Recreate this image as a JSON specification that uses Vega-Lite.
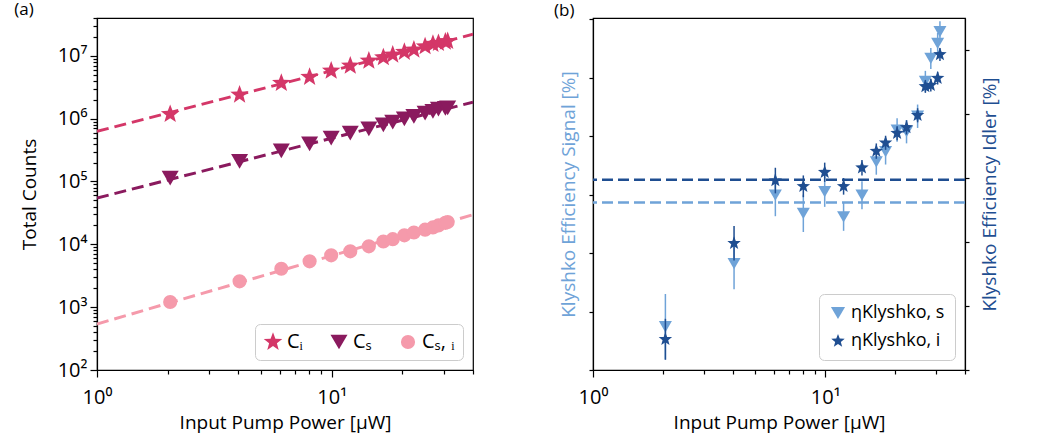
{
  "$schema": "https://vega.github.io/schema/vega-lite/v6.json",
  "padding": {"left": 13, "top": 0, "right": 5, "bottom": 0},
  "datasets": {
    "counts": [
      {"P": 2.05, "series": "Cᵢ", "count": 1180000}, {"P": 4.05, "series": "Cᵢ", "count": 2400000}, {"P": 6.1, "series": "Cᵢ", "count": 3680000}, {"P": 8.05, "series": "Cᵢ", "count": 4600000},
      {"P": 9.95, "series": "Cᵢ", "count": 5770000}, {"P": 12.0, "series": "Cᵢ", "count": 6930000}, {"P": 14.4, "series": "Cᵢ", "count": 8320000}, {"P": 16.6, "series": "Cᵢ", "count": 9440000},
      {"P": 18.2, "series": "Cᵢ", "count": 10400000}, {"P": 20.4, "series": "Cᵢ", "count": 11500000}, {"P": 22.4, "series": "Cᵢ", "count": 12500000}, {"P": 25.0, "series": "Cᵢ", "count": 14100000},
      {"P": 27.0, "series": "Cᵢ", "count": 15400000}, {"P": 28.5, "series": "Cᵢ", "count": 15900000}, {"P": 30.5, "series": "Cᵢ", "count": 16700000}, {"P": 31.2, "series": "Cᵢ", "count": 17100000},
      {"P": 2.05, "series": "Cₛ", "count": 113000}, {"P": 4.05, "series": "Cₛ", "count": 209000}, {"P": 6.1, "series": "Cₛ", "count": 308000}, {"P": 8.05, "series": "Cₛ", "count": 398000},
      {"P": 9.95, "series": "Cₛ", "count": 491000}, {"P": 12.0, "series": "Cₛ", "count": 589000}, {"P": 14.4, "series": "Cₛ", "count": 690000}, {"P": 16.6, "series": "Cₛ", "count": 798000},
      {"P": 18.2, "series": "Cₛ", "count": 881000}, {"P": 20.4, "series": "Cₛ", "count": 995000}, {"P": 22.4, "series": "Cₛ", "count": 1090000}, {"P": 25.0, "series": "Cₛ", "count": 1230000},
      {"P": 27.0, "series": "Cₛ", "count": 1310000}, {"P": 28.5, "series": "Cₛ", "count": 1420000}, {"P": 30.5, "series": "Cₛ", "count": 1460000}, {"P": 31.2, "series": "Cₛ", "count": 1490000},
      {"P": 2.05, "series": "Cₛ, ᵢ", "count": 1208}, {"P": 4.05, "series": "Cₛ, ᵢ", "count": 2577}, {"P": 6.1, "series": "Cₛ, ᵢ", "count": 4090}, {"P": 8.05, "series": "Cₛ, ᵢ", "count": 5360},
      {"P": 9.95, "series": "Cₛ, ᵢ", "count": 6680}, {"P": 12.0, "series": "Cₛ, ᵢ", "count": 7730}, {"P": 14.4, "series": "Cₛ, ᵢ", "count": 9290}, {"P": 16.6, "series": "Cₛ, ᵢ", "count": 11100},
      {"P": 18.2, "series": "Cₛ, ᵢ", "count": 12100}, {"P": 20.4, "series": "Cₛ, ᵢ", "count": 13900}, {"P": 22.4, "series": "Cₛ, ᵢ", "count": 15400}, {"P": 25.0, "series": "Cₛ, ᵢ", "count": 17100},
      {"P": 27.0, "series": "Cₛ, ᵢ", "count": 18600}, {"P": 28.5, "series": "Cₛ, ᵢ", "count": 20000}, {"P": 30.5, "series": "Cₛ, ᵢ", "count": 22000}, {"P": 31.2, "series": "Cₛ, ᵢ", "count": 22600}
    ],
    "fits": [
      {"P": 1, "fit": "i", "count": 627000}, {"P": 40, "fit": "i", "count": 22000000},
      {"P": 1, "fit": "s", "count": 54500}, {"P": 40, "fit": "s", "count": 1830000},
      {"P": 1, "fit": "si", "count": 540}, {"P": 40, "fit": "si", "count": 29600}
    ],
    "klyshko": [
      {"P": 2.05, "eta_s": 0.1012, "s_lo": 0.0984, "s_hi": 0.104, "eta_i": 1.098, "i_lo": 1.066, "i_hi": 1.13},
      {"P": 4.05, "eta_s": 0.1066, "s_lo": 0.1044, "s_hi": 0.1088, "eta_i": 1.248, "i_lo": 1.221, "i_hi": 1.275},
      {"P": 6.1, "eta_s": 0.11245, "s_lo": 0.11065, "s_hi": 0.11425, "eta_i": 1.346, "i_lo": 1.326, "i_hi": 1.366},
      {"P": 8.05, "eta_s": 0.1109, "s_lo": 0.1093, "s_hi": 0.1125, "eta_i": 1.337, "i_lo": 1.32, "i_hi": 1.354},
      {"P": 9.95, "eta_s": 0.11275, "s_lo": 0.11145, "s_hi": 0.11405, "eta_i": 1.359, "i_lo": 1.344, "i_hi": 1.374},
      {"P": 12.0, "eta_s": 0.1106, "s_lo": 0.1094, "s_hi": 0.1118, "eta_i": 1.337, "i_lo": 1.324, "i_hi": 1.35},
      {"P": 14.4, "eta_s": 0.11245, "s_lo": 0.11125, "s_hi": 0.11365, "eta_i": 1.366, "i_lo": 1.354, "i_hi": 1.378},
      {"P": 16.6, "eta_s": 0.1153, "s_lo": 0.1142, "s_hi": 0.1164, "eta_i": 1.392, "i_lo": 1.38, "i_hi": 1.404},
      {"P": 18.2, "eta_s": 0.11617, "s_lo": 0.11507, "s_hi": 0.11727, "eta_i": 1.405, "i_lo": 1.394, "i_hi": 1.416},
      {"P": 20.4, "eta_s": 0.11802, "s_lo": 0.11702, "s_hi": 0.11902, "eta_i": 1.42, "i_lo": 1.409, "i_hi": 1.431},
      {"P": 22.4, "eta_s": 0.11788, "s_lo": 0.11688, "s_hi": 0.11888, "eta_i": 1.429, "i_lo": 1.418, "i_hi": 1.44},
      {"P": 25.0, "eta_s": 0.1192, "s_lo": 0.1182, "s_hi": 0.1202, "eta_i": 1.448, "i_lo": 1.437, "i_hi": 1.459},
      {"P": 27.0, "eta_s": 0.12218, "s_lo": 0.12128, "s_hi": 0.12308, "eta_i": 1.493, "i_lo": 1.483, "i_hi": 1.503},
      {"P": 28.5, "eta_s": 0.12414, "s_lo": 0.12324, "s_hi": 0.12504, "eta_i": 1.495, "i_lo": 1.485, "i_hi": 1.505},
      {"P": 30.5, "eta_s": 0.12543, "s_lo": 0.12453, "s_hi": 0.12633, "eta_i": 1.506, "i_lo": 1.496, "i_hi": 1.516},
      {"P": 31.2, "eta_s": 0.12643, "s_lo": 0.12553, "s_hi": 0.12733, "eta_i": 1.543, "i_lo": 1.533, "i_hi": 1.553}
    ],
    "means": [{"signal": 0.11183, "idler": 1.3473}]
  },
  "spacing": 120,
  "bounds": "flush",
  "resolve": {
    "scale": {"color": "independent", "shape": "independent", "size": "independent", "stroke": "independent"},
    "legend": {"color": "independent", "shape": "independent", "size": "independent"}
  },
  "hconcat": [
    {
      "width": 376,
      "height": 352,
      "title": {"text": "(a)", "anchor": "start", "frame": "bounds", "dx": -6, "offset": -11},
      "layer": [
        {
          "data": {"name": "fits"},
          "mark": {"type": "line", "strokeDash": [12, 6], "strokeWidth": 3, "clip": true},
          "encoding": {
            "x": {"field": "P", "type": "quantitative", "scale": {"type": "log", "domain": [1, 40], "nice": false},
              "axis": {"title": "Input Pump Power [μW]", "values": [1,2,3,4,5,6,7,8,9,10,20,30,40],
                "labelExpr": "datum.value == 1 ? '10⁰' : datum.value == 10 ? '10¹' : ''",
                "tickSize": {"condition": {"test": "datum.value == 1 || datum.value == 10", "value": 7}, "value": 4},
                "labelFlush": false, "labelOverlap": false, "labelPadding": 10, "titlePadding": 6}},
            "y": {"field": "count", "type": "quantitative", "scale": {"type": "log", "domain": [100, 40000000], "nice": false},
              "axis": {"title": "Total Counts",
                "values": [100,200,300,400,500,600,700,800,900,1000,2000,3000,4000,5000,6000,7000,8000,9000,10000,20000,30000,40000,50000,60000,70000,80000,90000,100000,200000,300000,400000,500000,600000,700000,800000,900000,1000000,2000000,3000000,4000000,5000000,6000000,7000000,8000000,9000000,10000000,20000000,30000000,40000000],
                "labelExpr": "indexof([100,1000,10000,100000,1000000,10000000], datum.value) >= 0 ? '10' + ['⁰','¹','²','³','⁴','⁵','⁶','⁷','⁸'][round(log(datum.value)/LN10)] : ''",
                "tickSize": {"condition": {"test": "indexof([100,1000,10000,100000,1000000,10000000], datum.value) >= 0", "value": 7}, "value": 4},
                "labelFlush": false, "labelOverlap": false, "labelPadding": 3, "titlePadding": 18}},
            "stroke": {"field": "fit", "type": "nominal", "scale": {"domain": ["i", "s", "si"], "range": ["#d43768", "#8a1a5e", "#f59aab"]}, "legend": null}
          }
        },
        {
          "data": {"name": "counts"},
          "mark": {"type": "point", "filled": true, "opacity": 1},
          "encoding": {
            "x": {"field": "P", "type": "quantitative", "title": "Input Pump Power [μW]"},
            "y": {"field": "count", "type": "quantitative", "title": "Total Counts"},
            "color": {"field": "series", "type": "nominal", "title": null, "scale": {"domain": ["Cᵢ", "Cₛ", "Cₛ, ᵢ"], "range": ["#d43768", "#8a1a5e", "#f59aab"]},
              "legend": {"title": null, "orient": "bottom-right", "direction": "horizontal", "offset": 10, "labelFontSize": 20, "columnPadding": 26, "padding": 8, "fillColor": "white", "strokeColor": "#cccccc", "cornerRadius": 5}},
            "shape": {"field": "series", "type": "nominal", "title": null, "scale": {"domain": ["Cᵢ", "Cₛ", "Cₛ, ᵢ"], "range": ["M0,-1L0.2469,-0.3398L0.9511,-0.309L0.3995,0.1298L0.5878,0.809L0,0.42L-0.5878,0.809L-0.3995,0.1298L-0.9511,-0.309L-0.2469,-0.3398Z", "triangle-down", "circle"]}},
            "size": {"field": "series", "type": "nominal", "title": null, "scale": {"domain": ["Cᵢ", "Cₛ", "Cₛ, ᵢ"], "range": [380, 200, 80]}}
          }
        }
      ]
    },
    {
      "width": 372,
      "height": 352,
      "title": {"text": "(b)", "anchor": "start", "frame": "bounds", "dx": -5, "offset": -11},
      "layer": [
        {
          "layer": [
            {
              "data": {"name": "means"},
              "mark": {"type": "rule", "strokeDash": [11, 5], "strokeWidth": 2.5, "color": "#6fa3d8"},
              "encoding": {
                "y": {"field": "signal", "type": "quantitative", "title": "Klyshko Efficiency Signal [%]", "scale": {"domain": [0.0975, 0.1276], "nice": false, "zero": false}}
              }
            },
            {
              "data": {"name": "klyshko"},
              "mark": {"type": "rule", "color": "#6fa3d8", "strokeWidth": 1.5},
              "encoding": {
                "x": {"field": "P", "type": "quantitative", "title": "Input Pump Power [μW]", "scale": {"type": "log", "domain": [1, 40], "nice": false}},
                "y": {"field": "s_lo", "type": "quantitative", "title": "Klyshko Efficiency Signal [%]", "scale": {"domain": [0.0975, 0.1276], "nice": false, "zero": false}},
                "y2": {"field": "s_hi"}
              }
            },
            {
              "data": {"name": "klyshko"},
              "mark": {"type": "point", "filled": true, "opacity": 1, "size": 170},
              "encoding": {
                "x": {"field": "P", "type": "quantitative", "title": "Input Pump Power [μW]", "scale": {"type": "log", "domain": [1, 40], "nice": false},
                  "axis": {"title": "Input Pump Power [μW]", "values": [1,2,3,4,5,6,7,8,9,10,20,30,40],
                    "labelExpr": "datum.value == 1 ? '10⁰' : datum.value == 10 ? '10¹' : ''",
                    "tickSize": {"condition": {"test": "datum.value == 1 || datum.value == 10", "value": 7}, "value": 4},
                    "labelFlush": false, "labelOverlap": false, "labelPadding": 10, "titlePadding": 6}},
                "y": {"field": "eta_s", "type": "quantitative", "title": "Klyshko Efficiency Signal [%]", "scale": {"domain": [0.0975, 0.1276], "nice": false, "zero": false},
                  "axis": {"title": "Klyshko Efficiency Signal [%]", "titleColor": "#6fa3d8", "labelColor": "#6fa3d8",
                    "values": [0.0975,0.1,0.1025,0.105,0.1075,0.11,0.1125,0.115,0.1175,0.12,0.1225,0.125,0.1275],
                    "labelExpr": "indexof([0.1,0.105,0.11,0.115,0.12,0.125], datum.value) >= 0 ? format(datum.value, '.3f') : ''",
                    "tickSize": {"condition": {"test": "indexof([0.1,0.105,0.11,0.115,0.12,0.125], datum.value) >= 0", "value": 7}, "value": 4},
                    "labelFlush": false, "labelOverlap": false, "labelPadding": 3, "titlePadding": 8}},
                "color": {"datum": "ηKlyshko, s", "type": "nominal"},
                "shape": {"datum": "ηKlyshko, s", "type": "nominal"}
              }
            }
          ]
        },
        {
          "layer": [
            {
              "data": {"name": "means"},
              "mark": {"type": "rule", "strokeDash": [11, 5], "strokeWidth": 2.5, "color": "#1f4e91"},
              "encoding": {
                "y": {"field": "idler", "type": "quantitative", "title": "Klyshko Efficiency Idler [%]", "scale": {"domain": [1.05, 1.6], "nice": false, "zero": false}}
              }
            },
            {
              "data": {"name": "klyshko"},
              "mark": {"type": "rule", "color": "#1f4e91", "strokeWidth": 1.5},
              "encoding": {
                "x": {"field": "P", "type": "quantitative", "title": "Input Pump Power [μW]", "scale": {"type": "log", "domain": [1, 40], "nice": false}},
                "y": {"field": "i_lo", "type": "quantitative", "title": "Klyshko Efficiency Idler [%]", "scale": {"domain": [1.05, 1.6], "nice": false, "zero": false}},
                "y2": {"field": "i_hi"}
              }
            },
            {
              "data": {"name": "klyshko"},
              "mark": {"type": "point", "filled": true, "opacity": 1, "size": 200},
              "encoding": {
                "x": {"field": "P", "type": "quantitative", "title": "Input Pump Power [μW]", "scale": {"type": "log", "domain": [1, 40], "nice": false}},
                "y": {"field": "eta_i", "type": "quantitative", "title": "Klyshko Efficiency Idler [%]", "scale": {"domain": [1.05, 1.6], "nice": false, "zero": false},
                  "axis": {"orient": "right", "title": "Klyshko Efficiency Idler [%]", "titleColor": "#1f4e91", "labelColor": "#1f4e91", "titleAngle": -90, "titleBaseline": "top",
                    "values": [1.05,1.075,1.1,1.125,1.15,1.175,1.2,1.225,1.25,1.275,1.3,1.325,1.35,1.375,1.4,1.425,1.45,1.475,1.5,1.525,1.55,1.575,1.6],
                    "labelExpr": "indexof([1.1,1.2,1.3,1.4,1.5,1.6], datum.value) >= 0 ? format(datum.value, '.1f') : ''",
                    "tickSize": {"condition": {"test": "indexof([1.1,1.2,1.3,1.4,1.5,1.6], datum.value) >= 0", "value": 7}, "value": 4},
                    "labelFlush": false, "labelOverlap": false, "labelPadding": 3, "titlePadding": 8}},
                "color": {"datum": "ηKlyshko, i", "type": "nominal",
                  "scale": {"domain": ["ηKlyshko, s", "ηKlyshko, i"], "range": ["#6fa3d8", "#1f4e91"]},
                  "legend": {"title": null, "orient": "bottom-right", "direction": "vertical", "offset": 10, "labelFontSize": 18, "symbolSize": 200, "padding": 10, "rowPadding": 10, "fillColor": "white", "strokeColor": "#cccccc", "cornerRadius": 5}},
                "shape": {"datum": "ηKlyshko, i", "type": "nominal",
                  "scale": {"domain": ["ηKlyshko, s", "ηKlyshko, i"], "range": ["triangle-down", "M0,-1L0.2469,-0.3398L0.9511,-0.309L0.3995,0.1298L0.5878,0.809L0,0.42L-0.5878,0.809L-0.3995,0.1298L-0.9511,-0.309L-0.2469,-0.3398Z"]}}
              }
            }
          ]
        }
      ],
      "resolve": {"scale": {"y": "independent"}, "axis": {"y": "independent"}}
    }
  ],
  "config": {
    "font": "Open Sans",
    "view": {"stroke": "black", "strokeWidth": 1.2},
    "axis": {"domainColor": "black", "tickColor": "black", "labelColor": "black", "titleColor": "black", "labelFontSize": 20, "titleFontSize": 19, "titleFontWeight": "normal", "grid": false, "domainWidth": 1.2, "tickWidth": 1.2, "labelFont": "Open Sans", "titleFont": "Open Sans", "labelOverlap": false, "labelFlush": false},
    "legend": {"labelFont": "Open Sans", "symbolStrokeWidth": 0},
    "title": {"fontSize": 17, "fontWeight": "normal", "font": "Open Sans", "color": "black"}
  }
}
